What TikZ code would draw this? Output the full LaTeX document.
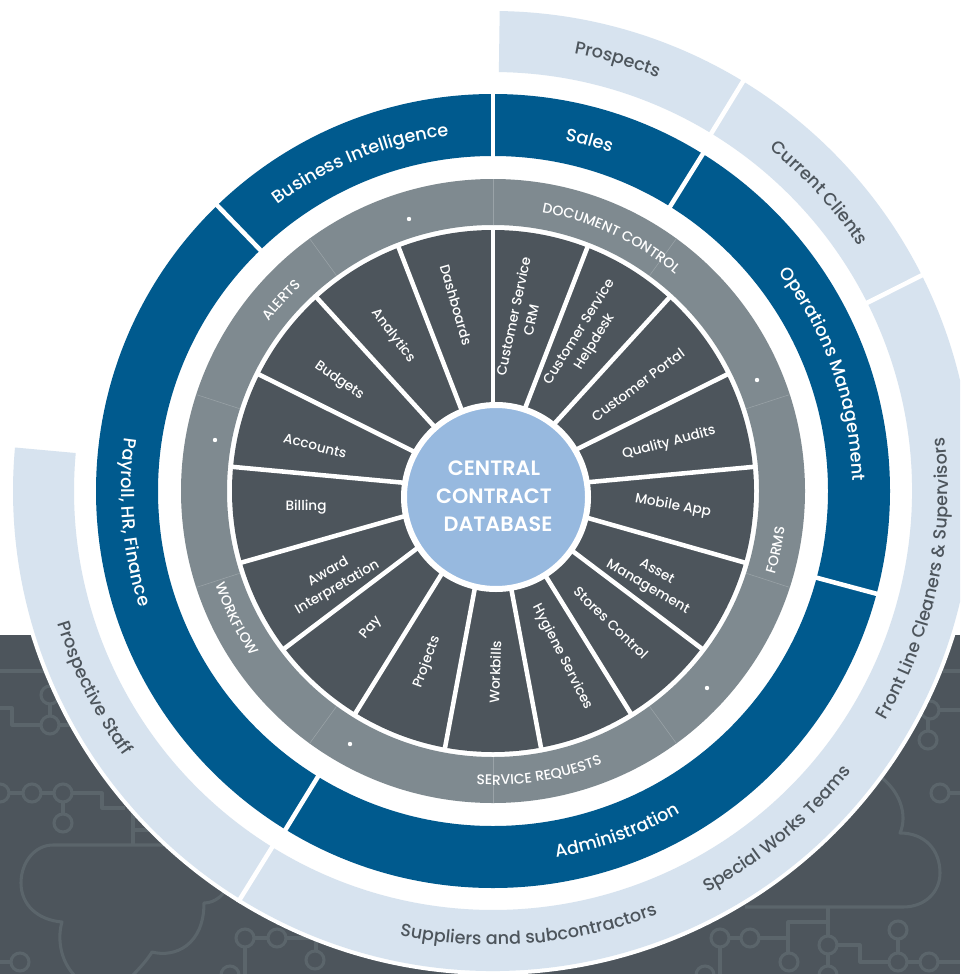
\documentclass[tikz,border=0pt]{standalone}
\usepackage{fontspec}
\setmainfont{Poppins Medium}
\newfontfamily\hubfont{Poppins SemiBold}
\usetikzlibrary{decorations.text}
\definecolor{darkbg}{HTML}{4D555C}
\definecolor{trace}{HTML}{5B656B}
\definecolor{band}{HTML}{D7E3EF}
\definecolor{deepblue}{HTML}{005A8E}
\definecolor{midgray}{HTML}{7F8A90}
\definecolor{hairline}{HTML}{9AA3A8}
\definecolor{hubblue}{HTML}{97B9DF}
\newcommand\annsec[5]{\fill[#1] (#4:#3) arc[start angle=#4,end angle=#5,radius=#3] -- (#5:#2) arc[start angle=#5,end angle=#4,radius=#2] -- cycle;}
\newcommand\cwtext[5]{\path[decorate,decoration={text along path,text={|#1|#2},text align=center}] ({#4+#5}:#3) arc[start angle={#4+#5},delta angle={-2*#5},radius=#3];}
\newcommand\ccwtext[5]{\path[decorate,decoration={text along path,text={|#1|#2},text align=center}] ({#4-#5}:#3) arc[start angle={#4-#5},delta angle={2*#5},radius=#3];}
\newcommand\fband{\fontsize{13.2}{15}\selectfont\color{darkbg}}
\newcommand\fblue{\fontsize{13.3}{15}\selectfont\color{white}}
\newcommand\fgray{\fontsize{10.5}{12}\selectfont\color{white}}
\tikzset{
  sepline/.style={white,line width=3.4pt},
  spoke/.style={white,line width=3.4pt},
  hair/.style={hairline,line width=0.4pt},
  wlabel/.style={text=white,font=\fontsize{10.2}{13.5}\selectfont,align=center,inner sep=0pt},
  tr/.style={trace,line width=2.3pt,line join=round},
  pad/.style={trace,line width=2.3pt},
  gdot/.style={white}
}
\begin{document}
\begin{tikzpicture}[x=0.75pt,y=-0.75pt]
\useasboundingbox (0,0) rectangle (960,974);
\clip (0,0) rectangle (960,974);
\fill[white] (0,0) rectangle (960,974);
\fill[darkbg] (0,635) rectangle (960,974);
% circuit traces, left
\draw[tr] (0,671) -- (60,671);
\draw[tr] (0,708) -- (12,708) -- (12,725) -- (41,725);
\draw[tr] (59,725) -- (80,725);
\draw[tr] (50,704) -- (50,716);
\draw[pad] (50,695) circle[radius=9] (50,725) circle[radius=9];
\draw[pad] (0,793) circle[radius=9] (32,793) circle[radius=9] (63,793) circle[radius=9] (63,823) circle[radius=9];
\draw[tr] (9,793) -- (23,793) (41,793) -- (54,793) (63,802) -- (63,814);
\draw[tr] (72,793) -- (102,793) -- (102,808) -- (125,808);
\draw[tr] (133,810) -- (133,845) (133,830) -- (155,830);
\draw[tr] (180,845) -- (53,845) .. controls (35,845) and (21,862) .. (21,883) .. controls (21,905) and (38,920) .. (62,922) .. controls (58,935) and (58,960) .. (77,978);
\draw[tr] (130,978) .. controls (140,968) and (147,960) .. (152,952) .. controls (175,958) and (204,945) .. (204,903) .. controls (215,903) and (225,895) .. (232,880);
\draw[pad] (20,962) circle[radius=9];
\draw[tr] (0,962) -- (11,962);
\draw[pad] (245,938) circle[radius=9] (277,938) circle[radius=9] (315,960) circle[radius=9] (230,975) circle[radius=9];
\draw[tr] (245,947) -- (245,975) (254,938) -- (268,938) (286,938) -- (316,938) -- (316,951);
% circuit traces, right
\draw[tr] (943,671) -- (960,671);
\draw[pad] (930,710) circle[radius=9] (928,740) circle[radius=9] (940,793) circle[radius=9];
\draw[tr] (939,710) -- (960,710) (928,719) -- (928,731) (949,793) -- (960,793);
\draw[tr] (745,907) -- (903,907) .. controls (925,907) and (940,892) .. (940,873) .. controls (940,850) and (925,833) .. (900,833) .. controls (908,815) and (900,790) .. (878,775);
\draw[pad] (705,975) circle[radius=9] (720,938) circle[radius=9] (750,938) circle[radius=9] (789,962) circle[radius=9] (828,945) circle[radius=9] (828,975) circle[radius=9] (898,930) circle[radius=9] (898,962) circle[radius=9] (929,962) circle[radius=9];
\draw[tr] (720,947) -- (720,974) (729,938) -- (741,938) (759,938) -- (788,938) -- (788,922) -- (828,922) (788,938) -- (788,953);
\draw[tr] (828,907) -- (828,936) (828,954) -- (828,966);
\draw[tr] (837,945) -- (860,945) -- (860,962) -- (889,962) (898,939) -- (898,953) (907,962) -- (920,962) (938,962) -- (960,962);
% white disc
\fill[white] (493,491) circle[radius=484];
\begin{scope}[shift={(493,491)},y=0.75pt]
  % outer band
  \annsec{band}{419}{480}{58.6}{89.2}
  \annsec{band}{419}{480}{26.7}{58.6}
  \annsec{band}{419}{480}{-121.8}{26.7}
  \annsec{band}{419}{480}{174.8}{238.2}
  \draw[sepline] (58.6:415) -- (58.6:484);
  \draw[sepline] (26.7:415) -- (26.7:484);
  \draw[sepline] (238.2:415) -- (238.2:484);
  % blue ring
  \annsec{deepblue}{335}{397}{0}{360}
  \draw[sepline] (90:331) -- (90:401);
  \draw[sepline] (58.1:331) -- (58.1:401);
  \draw[sepline] (-15:331) -- (-15:401);
  \draw[sepline] (238.5:331) -- (238.5:401);
  \draw[sepline] (134:331) -- (134:401);
  % gray ring
  \annsec{midgray}{266}{312}{0}{360}
  \foreach \a in {90,54,...,-234} \draw[hair] (\a:266) -- (\a:312);
  % wedges
  \fill[darkbg] (0,0) circle[radius=261];
  \foreach \k in {0,...,16} \draw[spoke] ({90-\k*360/17}:85) -- ({90-\k*360/17}:263);
  % band labels
  \cwtext{\fband}{Prospects}{445}{73.9}{14}
  \cwtext{\fband}{Current Clients}{440}{42.4}{20}
  \ccwtext{\fband}{Front Line Cleaners {\&} Supervisors}{455}{-11.8}{30}
  \ccwtext{\fband}{Special Works Teams}{455}{-50}{20}
  \ccwtext{\fband}{Suppliers and subcontractors}{454}{-85.3}{28}
  \ccwtext{\fband}{Prospective Staff}{455}{206.3}{20}
  % blue labels
  \cwtext{\fblue}{Sales}{358}{74.6}{12}
  \cwtext{\fblue}{Business Intelligence}{358}{112}{22}
  \cwtext{\fblue}{Operations Management}{360}{19.5}{26}
  \ccwtext{\fblue}{Administration}{372}{-70}{18}
  \ccwtext{\fblue}{Payroll, HR, Finance}{372}{185}{22}
  % gray labels
  \cwtext{\fgray}{DOCUMENT CONTROL}{283}{65}{26}
  \cwtext{\fgray}{ALERTS}{281}{138}{14}
  \ccwtext{\fgray}{WORKFLOW}{293}{206.5}{16}
  \ccwtext{\fgray}{SERVICE REQUESTS}{294}{-80.7}{22}
  \ccwtext{\fgray}{FORMS}{294}{-11.8}{10}
\end{scope}
% dots
\fill[gdot] (409,219) circle[radius=2.2];
\fill[gdot] (757,380) circle[radius=2.2];
\fill[gdot] (707,688) circle[radius=2.2];
\fill[gdot] (350,744) circle[radius=2.2];
\fill[gdot] (215,440) circle[radius=2.2];
% hub
\node[circle,fill=hubblue,draw=white,line width=4.5pt,minimum size=138pt,inner sep=0pt] (hub) at (496,497) {};
\node[text=white,align=center,inner sep=0pt,font=\hubfont\fontsize{15.6}{21}\selectfont] (hubtext) at (494,496) {CENTRAL\\CONTRACT\\\hspace*{6pt}DATABASE};
% wedge labels
\node[wlabel,rotate=78] (crm) at (522,318) {Customer Service\\CRM};
\node[wlabel,rotate=58] (helpdesk) at (587,337) {Customer Service\\Helpdesk};
\node[wlabel,rotate=36.5] (portal) at (638,385) {Customer Portal};
\node[wlabel,rotate=15] (quality) at (669,443) {Quality Audits};
\node[wlabel,rotate=-10] (mobile) at (673,506) {Mobile App};
\node[wlabel,rotate=-30] (asset) at (652,580) {Asset\\Management};
\node[wlabel,rotate=-44] (stores) at (611,623) {Stores Control};
\node[wlabel,rotate=-63] (hygiene) at (562,657) {Hygiene Services};
\node[wlabel,rotate=88] (workbills) at (495,672) {Workbills};
\node[wlabel,rotate=70] (projects) at (427,662) {Projects};
\node[wlabel,rotate=50] (pay) at (371,628) {Pay};
\node[wlabel,rotate=30] (award) at (333,580) {Award\\Interpretation};
\node[wlabel,rotate=0] (billing) at (306,507) {Billing};
\node[wlabel,rotate=-14.5] (accounts) at (315,446) {Accounts};
\node[wlabel,rotate=-35] (budgets) at (339,381) {Budgets};
\node[wlabel,rotate=-53] (analytics) at (393,336) {Analytics};
\node[wlabel,rotate=-74] (dashboards) at (456,305) {Dashboards};
\end{tikzpicture}
\end{document}
